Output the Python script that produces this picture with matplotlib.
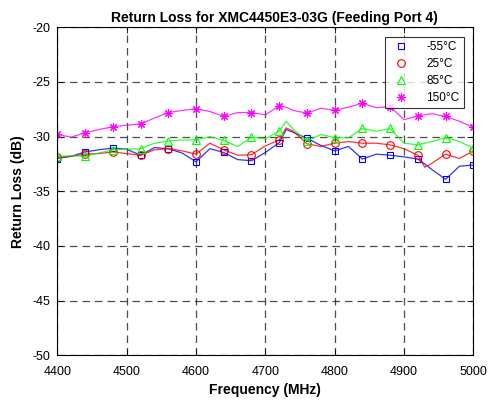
import matplotlib
matplotlib.use("Agg")
import matplotlib.pyplot as plt
import numpy as np

plt.rcParams['font.family'] = ['Liberation Sans', 'DejaVu Sans']
plt.rcParams['axes.unicode_minus'] = False

freq = [4400, 4420, 4440, 4460, 4480, 4500, 4520, 4540, 4560, 4580, 4600,
        4620, 4640, 4660, 4680, 4700, 4720, 4730, 4740, 4760, 4780, 4800,
        4820, 4840, 4860, 4880, 4900, 4920, 4930, 4940, 4960, 4980, 5000]

rl_m55 = [-32.0, -31.8, -31.4, -31.2, -31.05, -31.15, -31.7, -31.0, -31.1, -31.5, -32.3,
          -31.1, -31.45, -32.1, -32.2, -31.45, -30.55, -29.35, -29.6, -30.15, -30.8, -31.3,
          -30.9, -32.05, -31.6, -31.7, -31.85, -32.05, -32.5, -33.0, -33.9, -32.7, -32.6]

rl_25 = [-31.9, -31.8, -31.6, -31.55, -31.4, -31.55, -31.7, -31.2, -31.1, -31.3, -31.6,
         -30.6, -31.2, -31.7, -31.65, -30.85, -30.3, -29.2, -29.5, -30.65, -30.9, -30.6,
         -30.45, -30.6, -30.6, -30.75, -31.1, -31.7, -32.8, -32.45, -31.6, -32.0, -31.3]

rl_85 = [-31.8, -31.75, -31.8, -31.5, -31.2, -31.15, -31.1, -30.6, -30.4, -30.3, -30.3,
         -30.0, -30.35, -30.9, -30.05, -30.2, -29.5, -28.6, -29.3, -30.4, -29.8, -30.1,
         -30.1, -29.25, -29.5, -29.25, -30.6, -30.75, -30.6, -30.45, -30.1, -30.45, -31.05]

rl_150 = [-29.8, -30.05, -29.65, -29.35, -29.1, -28.95, -28.85, -28.3, -27.8, -27.6, -27.45,
          -27.7, -28.15, -27.8, -27.8, -28.0, -27.2, -27.3, -27.6, -27.85, -27.4, -27.6,
          -27.3, -26.95, -27.35, -27.25, -28.45, -28.1, -28.0, -27.9, -28.15, -28.6, -29.15]

labels = ['-55°C', '25°C', '85°C', '150°C']
colors = ['#0000ff', '#ff0000', '#00ff00', '#ff00ff']
markers = ['s', 'o', '^', (8, 2, 0)]
msizes = [5, 5.5, 5.5, 6]
series = [rl_m55, rl_25, rl_85, rl_150]

xticks = [4400, 4500, 4600, 4700, 4800, 4900, 5000]
yticks = [-50, -45, -40, -35, -30, -25, -20]

fig = plt.figure(figsize=(4.9, 4.03), dpi=100)
ax = fig.add_axes([0.117, 0.1184, 0.849, 0.8138])

f = np.array(freq)
mk = (f % 40 == 0)
for vals, c, m, s_, lab in zip(series, colors, markers, msizes, labels):
    v = np.array(vals)
    ax.plot(f, v, color=c, lw=0.9, alpha=0.8)
    ax.plot(f[mk], v[mk], linestyle='none', marker=m, mfc='none', mec=c,
            ms=s_, mew=0.8, label=lab)

ax.set_xlim(4400, 5000)
ax.set_ylim(-50, -20)
ax.set_xticks(xticks)
ax.set_yticks(yticks)
ax.tick_params(direction='in', length=4, width=0.6, labelsize=9, top=True, right=True, colors='black')
ax.tick_params(axis='x', pad=7.5)
ax.tick_params(axis='y', pad=5)
for s in ax.spines.values():
    s.set_linewidth(0.8)
ax.grid(True, color='#222222', linestyle=(0, (6, 4)), linewidth=0.9, alpha=0.8)

ax.set_title('Return Loss for XMC4450E3-03G (Feeding Port 4)', fontsize=10, fontweight='bold',
             pad=4, x=0.521)
ax.set_xlabel('Frequency (MHz)', fontsize=10, fontweight='bold', labelpad=4)
ax.set_ylabel('Return Loss (dB)', fontsize=10, fontweight='bold', labelpad=5)

leg = ax.legend(loc='upper right', fontsize=8.5, frameon=True, fancybox=False,
                edgecolor='black', borderaxespad=0.8, handletextpad=1.1,
                labelspacing=0.4, handlelength=2.0, borderpad=0.4)
leg.get_frame().set_linewidth(0.8)

fig.savefig('out.png', dpi=100)
